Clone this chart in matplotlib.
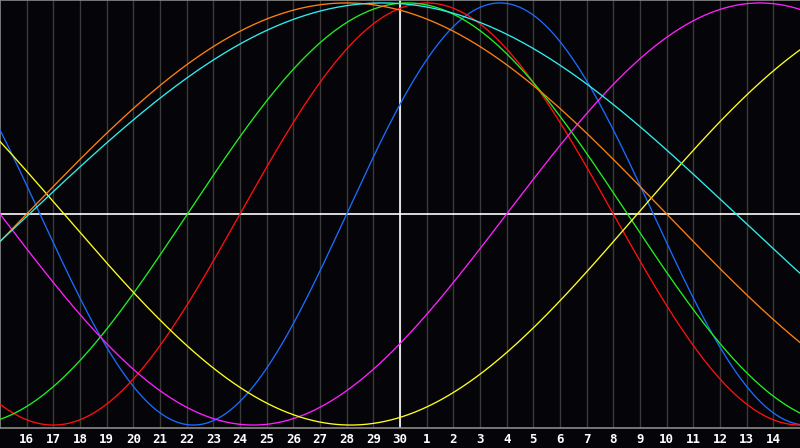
import numpy as np
import matplotlib
matplotlib.use("Agg")
import matplotlib.pyplot as plt

# Day labels along the bottom (one per gridline)
day_labels = [16, 17, 18, 19, 20, 21, 22, 23, 24, 25, 26, 27, 28, 29, 30,
              1, 2, 3, 4, 5, 6, 7, 8, 9, 10, 11, 12, 13, 14]
today_label = 30

# Cycles: period (days) and day index of upward zero crossing
cycle_names = ["physical", "emotional", "intellectual", "intuitive",
               "aesthetic", "awareness", "spiritual"]
cycle_periods = [23, 28, 33, 38, 43, 48, 53]
cycle_phase = [13.0, 9.0, 7.03, 19.0, 23.9, 1.0, 1.1]
cycle_colors = ["#1a6cff", "#ff1010", "#20f020", "#ff20ff",
                "#ffff20", "#ff8010", "#30eeee"]

n_days = len(day_labels) + 1  # span from left edge to right edge

fig = plt.figure(figsize=(8.0, 4.48), dpi=100)
fig.patch.set_facecolor("#050408")
ax = fig.add_axes([0, 20 / 448, 1, 428 / 448])
ax.set_facecolor("#050408")
ax.set_xlim(0, n_days)
ax.set_ylim(-1.014, 1.014)

# vertical day gridlines
positions = np.arange(1, len(day_labels) + 1)
for p in positions:
    ax.axvline(p, color="#3a3a3a", lw=1.0, zorder=1)

# centre lines
today_pos = positions[day_labels.index(today_label)]
ax.axhline(0, color="white", lw=1.2, zorder=2)
ax.axvline(today_pos, color="white", lw=1.2, zorder=2)

t = np.linspace(0, n_days, 1600)
for name, P, ph, c in zip(cycle_names, cycle_periods, cycle_phase, cycle_colors):
    ax.plot(t, np.sin(2 * np.pi * (t - ph) / P), color=c, lw=0.95, zorder=3,
            label=name)

ax.set_xticks(positions)
ax.set_xticklabels([str(d) for d in day_labels], color="white",
                   fontfamily="DejaVu Sans Mono", fontweight="bold",
                   fontsize=9)
ax.tick_params(axis="x", length=0, pad=3.5)
ax.set_yticks([])
for side in ["left", "top", "bottom"]:
    ax.spines[side].set_color("#8a8a8a")
    ax.spines[side].set_linewidth(1.2)
ax.spines["right"].set_visible(False)

fig.savefig("out.png", dpi=100, facecolor=fig.get_facecolor())
